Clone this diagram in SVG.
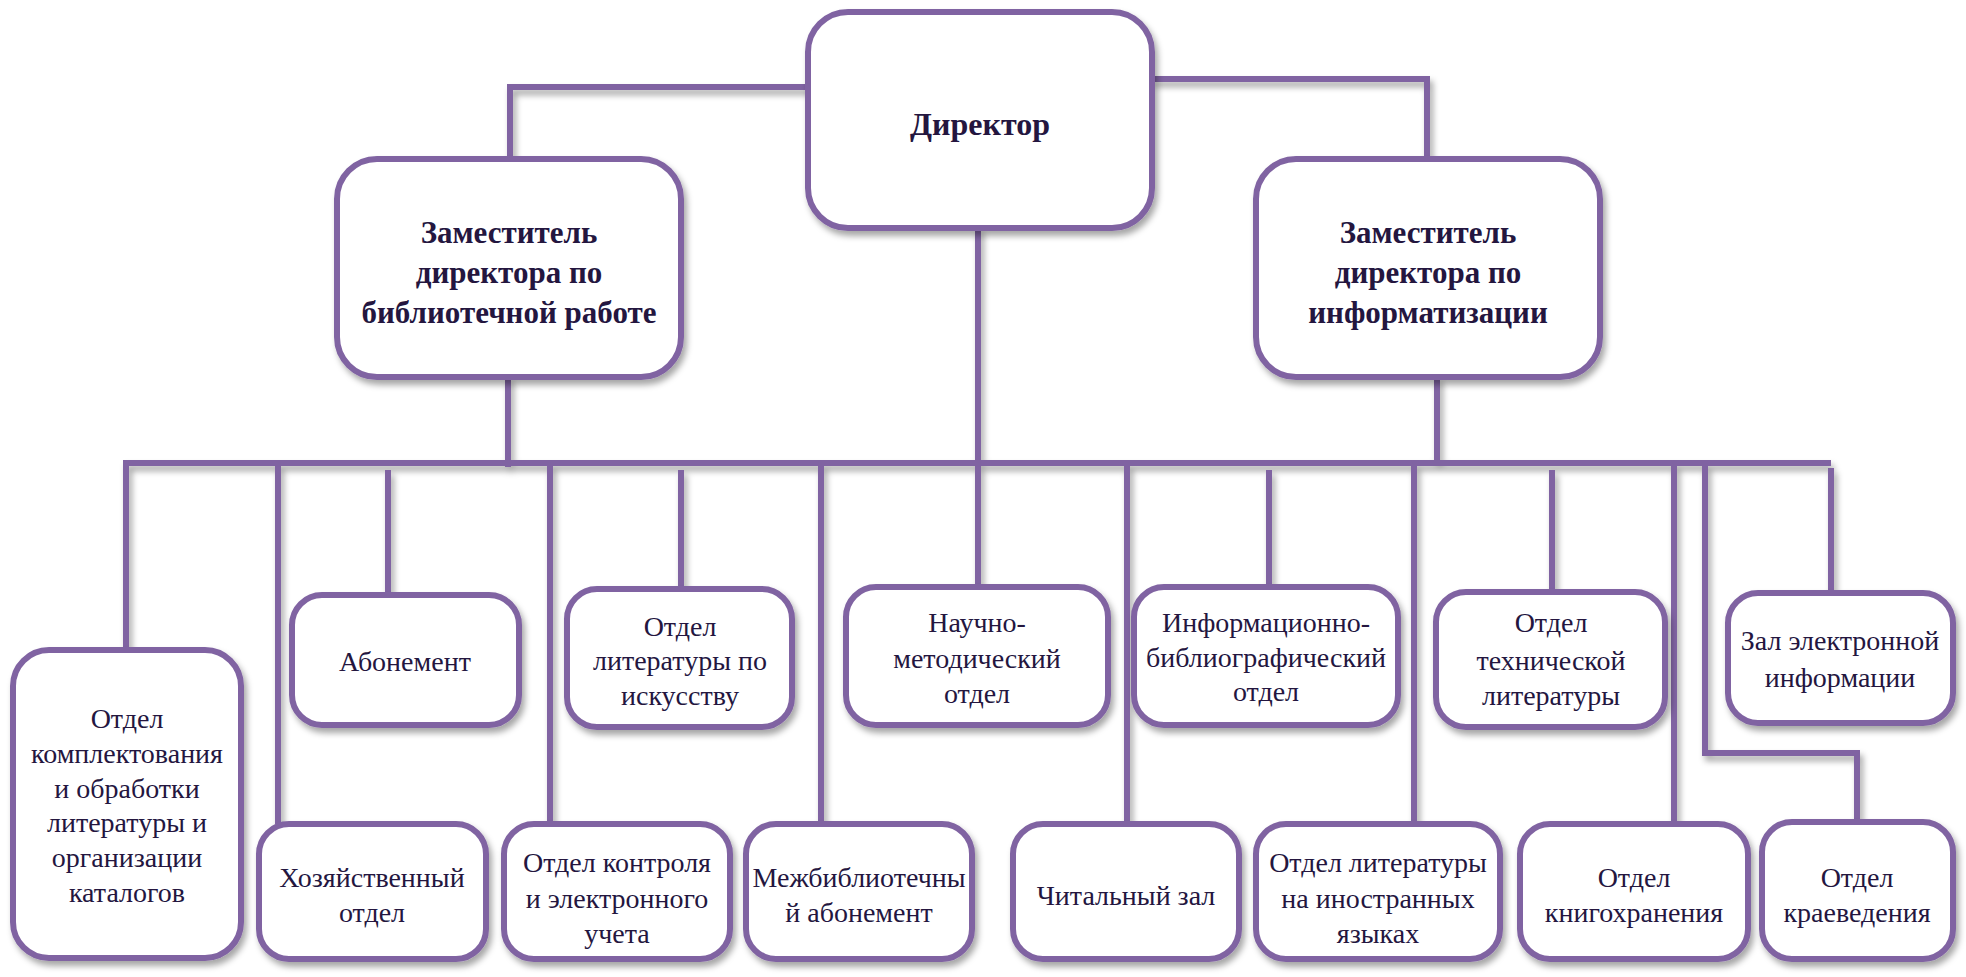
<svg xmlns="http://www.w3.org/2000/svg" width="1966" height="977" viewBox="0 0 1966 977">
<defs>
<filter id="sh" x="-10%" y="-10%" width="130%" height="130%">
<feDropShadow dx="3" dy="5" stdDeviation="3" flood-color="#000" flood-opacity="0.35"/>
</filter>
<style>
.box{fill:#fff;stroke:#8064A2;stroke-width:6;filter:url(#sh)}
.ln{fill:none;stroke:#8064A2;stroke-width:6;stroke-linejoin:miter}
text{font-family:'Liberation Serif','Times New Roman',serif;fill:#24163f;text-anchor:middle}
.b{font-weight:bold}
.top{font-size:32px}
.dep{font-size:31px}
.t{font-size:28px}
</style>
</defs>
<rect width="1966" height="977" fill="#fff"/>
<g id="connectors" filter="url(#sh)">
<path class="ln" d="M808,87 H510 V159"/>
<path class="ln" d="M1152,79 H1427 V159"/>
<path class="ln" d="M978,228 V587"/>
<path class="ln" d="M508,377 V467"/>
<path class="ln" d="M1437,377 V463"/>
<path class="ln" d="M126,650 V463 H1831"/>
<path class="ln" d="M278,463 V824"/>
<path class="ln" d="M388,470 V595"/>
<path class="ln" d="M550,463 V824"/>
<path class="ln" d="M681,470 V589"/>
<path class="ln" d="M821,463 V824"/>
<path class="ln" d="M1127,463 V824"/>
<path class="ln" d="M1269,470 V587"/>
<path class="ln" d="M1414,463 V824"/>
<path class="ln" d="M1552,470 V592"/>
<path class="ln" d="M1674,463 V823"/>
<path class="ln" d="M1705,463 V753 H1857 V822"/>
<path class="ln" d="M1831,468 V593"/>
</g>
<g id="director"><rect class="box" x="808" y="12" width="344" height="216" rx="40"/><text class="b top" x="980" y="135">Директор</text></g>
<g id="dep-lib"><rect class="box" x="337" y="159" width="344" height="218" rx="40"/><text class="b dep"><tspan x="509" y="243">Заместитель</tspan><tspan x="509" y="283">директора по</tspan><tspan x="509" y="323">библиотечной работе</tspan></text></g>
<g id="dep-inf"><rect class="box" x="1256" y="159" width="344" height="218" rx="40"/><text class="b dep"><tspan x="1428" y="243">Заместитель</tspan><tspan x="1428" y="283">директора по</tspan><tspan x="1428" y="323">информатизации</tspan></text></g>
<g id="n-kompl"><rect class="box" x="13" y="650" width="228" height="308" rx="36"/><text class="t"><tspan x="127" y="728">Отдел</tspan><tspan x="127" y="763">комплектования</tspan><tspan x="127" y="798">и обработки</tspan><tspan x="127" y="832">литературы и</tspan><tspan x="127" y="867">организации</tspan><tspan x="127" y="902">каталогов</tspan></text></g>
<g id="n-hoz"><rect class="box" x="259" y="824" width="227" height="135" rx="30"/><text class="t"><tspan x="372" y="887">Хозяйственный</tspan><tspan x="372" y="922">отдел</tspan></text></g>
<g id="n-abon"><rect class="box" x="292" y="595" width="227" height="130" rx="30"/><text class="t" x="405" y="671">Абонемент</text></g>
<g id="n-kontr"><rect class="box" x="504" y="824" width="226" height="135" rx="30"/><text class="t"><tspan x="617" y="872">Отдел контроля</tspan><tspan x="617" y="908">и электронного</tspan><tspan x="617" y="943">учета</tspan></text></g>
<g id="n-isk"><rect class="box" x="567" y="589" width="225" height="138" rx="30"/><text class="t"><tspan x="680" y="636">Отдел</tspan><tspan x="680" y="670">литературы по</tspan><tspan x="680" y="705">искусству</tspan></text></g>
<g id="n-mba"><rect class="box" x="746" y="824" width="226" height="135" rx="30"/><text class="t"><tspan x="859" y="887">Межбиблиотечны</tspan><tspan x="859" y="922">й абонемент</tspan></text></g>
<g id="n-nmo"><rect class="box" x="846" y="587" width="262" height="138" rx="30"/><text class="t"><tspan x="977" y="632">Научно-</tspan><tspan x="977" y="668">методический</tspan><tspan x="977" y="703">отдел</tspan></text></g>
<g id="n-chz"><rect class="box" x="1013" y="824" width="226" height="135" rx="30"/><text class="t" x="1126" y="905">Читальный зал</text></g>
<g id="n-ibo"><rect class="box" x="1134" y="587" width="264" height="138" rx="30"/><text class="t"><tspan x="1266" y="632">Информационно-</tspan><tspan x="1266" y="667">библиографический</tspan><tspan x="1266" y="701">отдел</tspan></text></g>
<g id="n-ino"><rect class="box" x="1256" y="824" width="244" height="135" rx="30"/><text class="t"><tspan x="1378" y="872">Отдел литературы</tspan><tspan x="1378" y="908">на иностранных</tspan><tspan x="1378" y="943">языках</tspan></text></g>
<g id="n-tech"><rect class="box" x="1436" y="592" width="229" height="135" rx="30"/><text class="t"><tspan x="1551" y="632">Отдел</tspan><tspan x="1551" y="670">технической</tspan><tspan x="1551" y="705">литературы</tspan></text></g>
<g id="n-knig"><rect class="box" x="1520" y="824" width="228" height="135" rx="30"/><text class="t"><tspan x="1634" y="887">Отдел</tspan><tspan x="1634" y="922">книгохранения</tspan></text></g>
<g id="n-zal"><rect class="box" x="1728" y="593" width="225" height="130" rx="30"/><text class="t"><tspan x="1840" y="650">Зал электронной</tspan><tspan x="1840" y="687">информации</tspan></text></g>
<g id="n-krai"><rect class="box" x="1762" y="822" width="191" height="137" rx="30"/><text class="t"><tspan x="1857" y="887">Отдел</tspan><tspan x="1857" y="922">краеведения</tspan></text></g>
</svg>
